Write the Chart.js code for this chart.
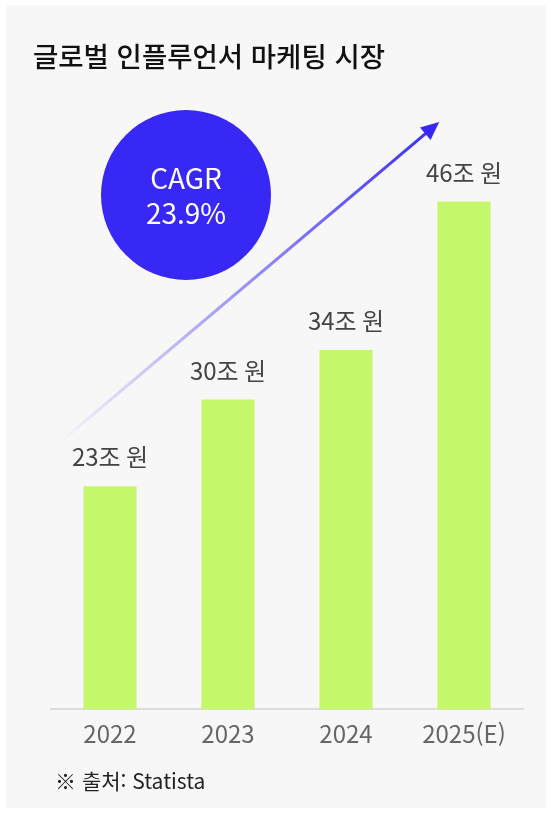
<!DOCTYPE html>
<html lang="ko">
<head>
<meta charset="utf-8">
<script src="https://cdn.jsdelivr.net/npm/chart.js@4.4.1/dist/chart.umd.min.js"></script>
<style>
    body { margin: 0; background: #ffffff; font-family: "Noto Sans CJK KR", "Noto Sans", sans-serif; }
    #panel { position: absolute; left: 6px; top: 5px; width: 540px; height: 803px; background: #f7f7f7; }
    #title { position: absolute; left: 33px; top: 35px; margin: 0; font-size: 27.5px; font-weight: 500; color: #111; white-space: nowrap; }
    #source { position: absolute; left: 55px; top: 765px; font-size: 21px; color: #222; white-space: nowrap; }
    #chart { position: absolute; left: 0; top: 0; }
</style>
</head>
<body>
<div id="panel"></div>
<canvas id="chart" width="550" height="818"></canvas>
<h1 id="title">글로벌 인플루언서 마케팅 시장</h1>
<div id="source">※ 출처: Statista</div>

<script>
// Chart data
const years = ['2022', '2023', '2024', '2025(E)'];
const marketSize = [23, 30, 34, 46];          // 조 원
const valueLabels = ['23조 원', '30조 원', '34조 원', '46조 원'];
const cagrText = ['CAGR', '23.9%'];

const FONT = '"Noto Sans CJK KR", "Noto Sans", sans-serif';

// value labels above each bar
const barLabels = {
    id: 'barLabels',
    afterDatasetsDraw(chart) {
        const ctx = chart.ctx;
        const meta = chart.getDatasetMeta(0);
        ctx.save();
        ctx.font = '400 24px ' + FONT;
        ctx.fillStyle = '#444444';
        ctx.textAlign = 'center';
        ctx.textBaseline = 'middle';
        meta.data.forEach((bar, i) => {
            ctx.fillText(valueLabels[i], bar.x, bar.y - 29);
        });
        ctx.restore();
    }
};

// CAGR circle and growth arrow
const cagrDecor = {
    id: 'cagrDecor',
    afterDatasetsDraw(chart) {
        const ctx = chart.ctx;
        const x = chart.scales.x;

        // arrow
        const x0 = x.getPixelForValue(-0.42), y0 = 442;
        const x1 = x.getPixelForValue(2.79), y1 = 122;
        const ang = Math.atan2(y1 - y0, x1 - x0);
        const headLen = 20;
        const lx = x1 - Math.cos(ang) * headLen * 0.8;
        const ly = y1 - Math.sin(ang) * headLen * 0.8;
        const grad = ctx.createLinearGradient(x0, y0, x1, y1);
        grad.addColorStop(0, 'rgba(55, 40, 245, 0)');
        grad.addColorStop(1, 'rgba(55, 40, 245, 1)');
        ctx.save();
        ctx.strokeStyle = grad;
        ctx.lineWidth = 3;
        ctx.beginPath();
        ctx.moveTo(x0, y0);
        ctx.lineTo(lx, ly);
        ctx.stroke();
        ctx.fillStyle = '#3728f5';
        ctx.beginPath();
        ctx.moveTo(x1, y1);
        ctx.lineTo(x1 - headLen * Math.cos(ang - 0.42), y1 - headLen * Math.sin(ang - 0.42));
        ctx.lineTo(x1 - headLen * Math.cos(ang + 0.42), y1 - headLen * Math.sin(ang + 0.42));
        ctx.closePath();
        ctx.fill();

        // circle
        const cx = 186, cy = 195, r = 85;
        ctx.fillStyle = '#3728f5';
        ctx.beginPath();
        ctx.arc(cx, cy, r, 0, Math.PI * 2);
        ctx.fill();
        ctx.fillStyle = '#ffffff';
        ctx.font = '400 28px ' + FONT;
        ctx.textAlign = 'center';
        ctx.textBaseline = 'middle';
        ctx.fillText(cagrText[0], cx, cy - 17);
        ctx.fillText(cagrText[1], cx, cy + 18);
        ctx.restore();
    }
};

new Chart(document.getElementById('chart'), {
    type: 'bar',
    data: {
        labels: years,
        datasets: [{
            data: marketSize,
            backgroundColor: '#c5f76a',
            borderWidth: 0,
            categoryPercentage: 1,
            barPercentage: 0.45
        }]
    },
    options: {
        responsive: false,
        animation: false,
        layout: { padding: { left: 51, right: 27, top: 90, bottom: 60 } },
        plugins: {
            legend: { display: false },
            tooltip: { enabled: false }
        },
        scales: {
            x: {
                grid: { display: false, drawTicks: false, tickLength: 0 },
                border: { display: true, color: '#dcdcdc', width: 2 },
                ticks: { color: '#666666', font: { family: FONT, size: 24 }, padding: 10 }
            },
            y: {
                display: false,
                min: 5,
                max: 55
            }
        }
    },
    plugins: [barLabels, cagrDecor]
});
</script>
</body>
</html>
